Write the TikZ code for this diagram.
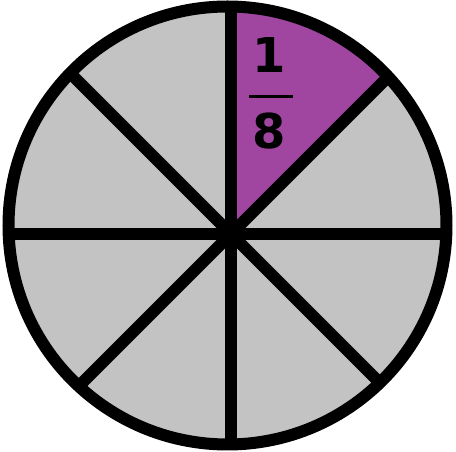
\documentclass[tikz,border=0pt]{standalone}
\usepackage{fontspec}
\setsansfont{DejaVu Sans}
\usepackage{xcolor}
\usetikzlibrary{positioning}
\definecolor{slicegray}{RGB}{195,195,195}
\definecolor{slicepurple}{RGB}{160,70,160}

\begin{document}
\begin{tikzpicture}[x=1pt,y=1pt,
    spoke/.style={line width=12pt},
    rim/.style={line width=12pt},
    digit/.style={font=\sffamily\bfseries\fontsize{48}{48}\selectfont,inner sep=0pt}
]
\useasboundingbox (0,0) rectangle (456,452);
\coordinate (c) at (227.5,226.5);
\coordinate (hub) at (231,218);
% pie with the one eighth slice
\fill[slicegray] (c) circle (219);
\begin{scope}
  \clip (c) circle (219);
  \fill[slicepurple] (hub) -- ++(0,300) -- ++(300,0) -- cycle;
  \foreach \a in {0,45,...,315}
    \draw[spoke] (hub) -- ++(\a:300);
\end{scope}
\draw[rim] (c) circle (219);
% fraction 1/8
\node[digit] (num) at (269,397) {1};
\node[digit] (den) at (269,321) {8};
\draw[line width=3pt] (249,355) -- (293,355);
\end{tikzpicture}
\end{document}
